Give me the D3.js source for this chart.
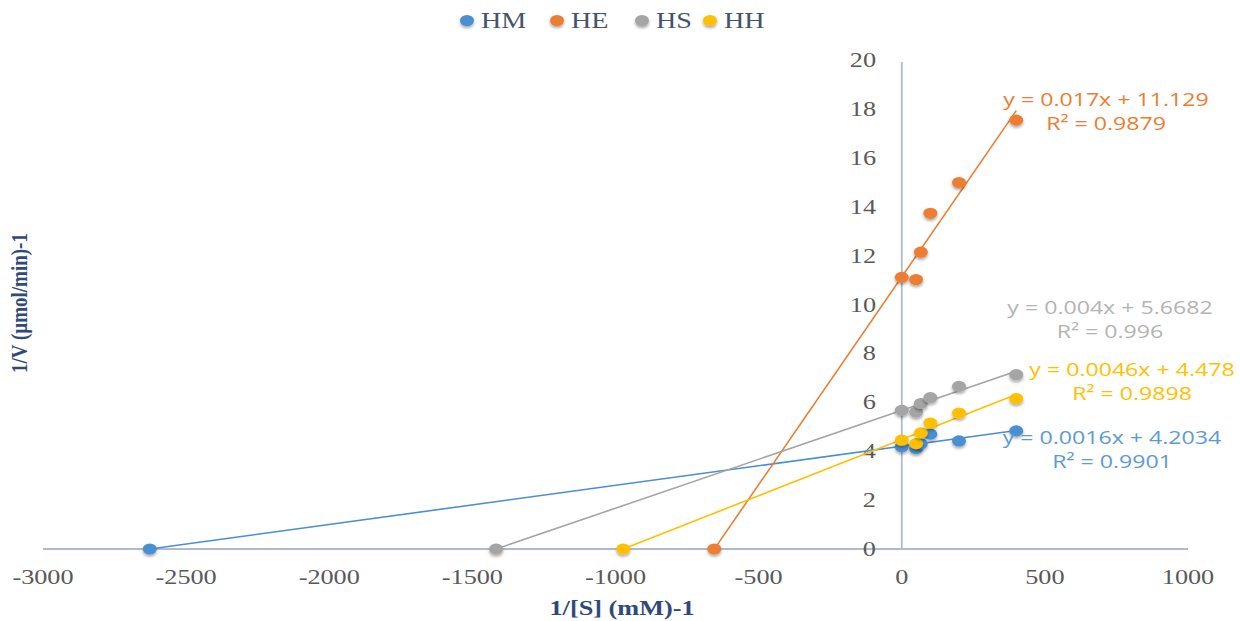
<!DOCTYPE html>
<html><head><meta charset="utf-8">
<script src="https://cdn.jsdelivr.net/npm/d3@7"></script>
<style>html,body{margin:0;padding:0;background:#fff;overflow:hidden}</style>
</head><body>
<svg id="chart" width="1240" height="621"></svg>
<script>
// ---- data ----
const seriesNames = ["HM", "HE", "HS", "HH"];
const seriesColors = ["#4A8FD2", "#ED7D31", "#A5A5A5", "#FFC000"];
const labelColors = ["#5B9BD5", "#ED7D31", "#B4B4B4", "#FFC000"];
const xValues = [0, 50, 66.7, 100, 200, 400];
const hmY = [4.18, 4.11, 4.30, 4.70, 4.42, 4.83];
const heY = [11.11, 11.02, 12.14, 13.73, 14.99, 17.54];
const hsY = [5.67, 5.60, 5.95, 6.19, 6.65, 7.13];
const hhY = [4.45, 4.31, 4.75, 5.15, 5.56, 6.15];
const xIntercepts = [-2627, -655, -1417, -973];
const slopes = [0.0016, 0.017, 0.004, 0.0046];
const intercepts = [4.2034, 11.129, 5.6682, 4.478];
const eqLabels = ["y = 0.0016x + 4.2034", "y = 0.017x + 11.129", "y = 0.004x + 5.6682", "y = 0.0046x + 4.478"];
const r2Labels = ["R² = 0.9901", "R² = 0.9879", "R² = 0.996", "R² = 0.9898"];
const xTicks = [-3000, -2500, -2000, -1500, -1000, -500, 0, 500, 1000];
const yTicks = [0, 2, 4, 6, 8, 10, 12, 14, 16, 18, 20];
const xTitle = "1/[S] (mM)-1";
const yTitle = "1/V (µmol/min)-1";

const seriesY = [hmY, heY, hsY, hhY];
const SX = 1.25; // horizontal stretch of the original picture

const svg = d3.select("#chart");
const x = d3.scaleLinear().domain([-3000, 1000]).range([43, 1188]);
const y = d3.scaleLinear().domain([0, 20]).range([549, 60]);

const defs = svg.append("defs");
const f = defs.append("filter").attr("id", "sh").attr("x", "-50%").attr("y", "-50%").attr("width", "200%").attr("height", "200%");
f.append("feDropShadow").attr("dx", 0).attr("dy", 2).attr("stdDeviation", 1.5).attr("flood-color", "#000").attr("flood-opacity", 0.35);

function stext(g, txt, px, py, opts) {
  const t = g.append("text")
    .attr("transform", `translate(${px},${py}) scale(${SX},1)`)
    .attr("text-anchor", opts.anchor || "middle")
    .attr("font-family", opts.family)
    .attr("font-size", opts.size)
    .attr("fill", opts.fill)
    .text(txt);
  if (opts.weight) t.attr("font-weight", opts.weight);
  return t;
}

// axes lines
const axisColor = "#AFBACD";
svg.append("line").attr("x1", x(-3000)).attr("x2", x(1000)).attr("y1", y(0)).attr("y2", y(0))
  .attr("stroke", axisColor).attr("stroke-width", 1.8);
svg.append("line").attr("x1", x(0)).attr("x2", x(0)).attr("y1", y(20) + 2).attr("y2", y(0))
  .attr("stroke", axisColor).attr("stroke-width", 1.8);

// tick labels
const tickG = svg.append("g");
xTicks.forEach(v => stext(tickG, String(v), x(v), 584, {family: "Liberation Serif", size: 21, fill: "#595959"}));
yTicks.forEach(v => stext(tickG, String(v), 876, y(v) + 7, {anchor: "end", family: "Liberation Serif", size: 21, fill: "#595959"}));

// trendlines
seriesNames.forEach((s, i) => {
  const x0 = d3.min([xIntercepts[i]].concat(xValues));
  const x1 = d3.max(xValues);
  svg.append("line")
    .attr("x1", x(x0)).attr("y1", y(slopes[i] * x0 + intercepts[i]))
    .attr("x2", x(x1)).attr("y2", y(slopes[i] * x1 + intercepts[i]))
    .attr("stroke", seriesColors[i]).attr("stroke-width", 1.6);
});

// markers
seriesNames.forEach((s, i) => {
  const pts = [[xIntercepts[i], 0]].concat(xValues.map((xv, j) => [xv, seriesY[i][j]]));
  svg.append("g").selectAll("ellipse").data(pts).join("ellipse")
    .attr("cx", d => x(d[0])).attr("cy", d => y(d[1]))
    .attr("rx", 7).attr("ry", 5.6)
    .attr("fill", seriesColors[i]).attr("filter", "url(#sh)");
});

// trendline labels
const lblPos = [[1112, 438, 462], [1106, 100, 124], [1110, 308, 332], [1132, 370, 394]];
const lblG = svg.append("g");
seriesNames.forEach((s, i) => {
  const p = lblPos[i];
  stext(lblG, eqLabels[i], p[0], p[1] + 6, {family: "Open Sans", size: 18.5, fill: labelColors[i]});
  stext(lblG, r2Labels[i], p[0], p[2] + 6, {family: "Open Sans", size: 18.5, fill: labelColors[i]});
});

// legend
const legX = [467, 557, 642, 710];
const legG = svg.append("g");
seriesNames.forEach((s, i) => {
  legG.append("ellipse").attr("cx", legX[i]).attr("cy", 20.5).attr("rx", 7).attr("ry", 5.5)
    .attr("fill", seriesColors[i]).attr("filter", "url(#sh)");
  stext(legG, s, legX[i] + 14, 28, {anchor: "start", family: "Liberation Serif", size: 22.5, fill: "#44546A"});
});

// axis titles
stext(svg, xTitle, 622, 615, {family: "Liberation Serif", size: 21, fill: "#2F4A78", weight: "bold"});
svg.append("text")
  .attr("transform", `translate(27,303) scale(${SX},1) rotate(-90)`)
  .attr("text-anchor", "middle")
  .attr("font-family", "Liberation Serif").attr("font-size", 19).attr("font-weight", "bold")
  .attr("fill", "#2F4A78").text(yTitle);
</script>
</body></html>
